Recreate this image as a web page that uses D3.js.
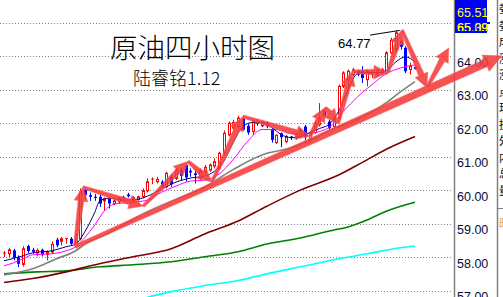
<!DOCTYPE html>
<html lang="zh">
<head>
<meta charset="UTF-8">
<title>原油四小时图</title>
<script src="https://d3js.org/d3.v7.min.js"></script>
<style>
  body { margin: 0; background: #fff; overflow: hidden; }
  svg { display: block; background: #fff; }
  .grid line { stroke: #808080; stroke-dasharray: 1,2; }
  .axis text { font-family: "Liberation Sans", Arial, sans-serif; font-size: 12.5px; fill: #0a0a3c; }
  .title { font-family: "Noto Sans CJK SC", sans-serif; font-weight: 300; fill: #000; }
</style>
</head>
<body>
<svg width="503" height="297"></svg>
<script>
// 4h bars: [open, high, low, close]
const ohlc = [
  [58.08,58.18,58.00,58.12],[58.10,58.27,58.00,58.22],[58.20,58.25,57.90,57.98],[58.00,58.05,57.70,57.80],
  [57.78,58.33,57.72,58.25],[58.33,58.37,58.12,58.18],[58.22,58.28,58.10,58.16],[58.12,58.26,58.02,58.20],
  [58.22,58.25,58.02,58.08],[58.08,58.20,57.90,58.15],[58.15,58.47,58.10,58.38],[58.52,58.58,58.30,58.35],
  [58.47,58.60,58.35,58.55],[58.50,58.58,58.40,58.55],[58.55,58.60,58.35,58.40],[58.40,58.72,58.35,58.65],
  [58.55,60.05,58.50,59.95],[60.02,60.08,59.72,59.85],[59.85,59.93,59.68,59.80],[59.80,59.88,59.68,59.77],
  [59.80,59.88,59.50,59.60],[59.68,59.78,59.38,59.75],[59.75,59.80,59.45,59.60],[59.60,59.72,59.55,59.68],
  [59.65,59.80,59.58,59.77],[59.80,59.83,59.73,59.76],[59.87,59.92,59.78,59.82],[59.70,59.82,59.66,59.78],
  [59.72,59.84,59.68,59.80],[59.80,60.05,59.75,59.98],[59.98,60.35,59.93,60.25],[60.28,60.38,60.18,60.33],
  [60.25,60.40,60.20,60.32],[60.25,60.30,60.05,60.10],[60.10,60.55,60.05,60.50],[60.40,60.47,60.10,60.18],
  [60.35,60.67,60.30,60.60],[60.60,60.68,60.30,60.43],[60.75,60.82,60.25,60.38],[60.58,60.65,60.40,60.53],
  [60.50,60.62,60.20,60.45],[60.35,60.65,60.30,60.58],[60.55,60.75,60.50,60.68],[60.60,60.80,60.55,60.75],
  [60.72,60.95,60.65,60.85],[60.65,61.15,60.60,61.10],[61.10,61.78,61.05,61.70],[61.65,62.05,61.60,62.00],
  [61.85,62.10,61.80,62.02],[61.90,62.22,61.85,62.15],[62.13,62.22,61.78,61.80],[61.92,61.98,61.65,61.72],
  [61.75,62.12,61.65,62.05],[62.05,62.12,61.92,61.98],[61.92,62.06,61.88,62.02],[62.00,62.05,61.85,61.90],
  [61.82,61.86,61.42,61.50],[61.42,61.66,61.38,61.64],[61.70,61.72,61.28,61.58],[61.45,61.65,61.40,61.60],
  [61.60,61.62,61.50,61.55],[61.55,61.72,61.50,61.68],[61.60,61.85,61.55,61.80],[61.90,61.95,61.50,61.58],
  [61.50,61.78,61.42,61.72],[61.72,62.05,61.68,62.00],[61.95,62.60,61.90,62.15],[62.40,62.45,62.15,62.20],
  [62.05,62.10,61.80,61.85],[61.90,62.20,61.85,62.15],[62.15,63.15,62.10,63.10],[63.10,63.55,63.05,63.50],
  [63.30,63.60,63.10,63.55],[63.45,63.65,63.40,63.60],[63.55,63.60,63.40,63.45],[63.55,63.70,63.20,63.35],
  [63.30,63.60,63.10,63.55],[63.48,63.60,63.35,63.52],[63.45,63.62,63.40,63.58],[63.50,63.65,63.45,63.60],
  [63.50,64.15,63.45,64.10],[64.10,64.55,64.05,64.48],[64.20,64.77,64.15,64.70],[64.45,64.50,64.20,64.28],
  [64.25,64.30,63.50,63.55],[63.60,63.80,63.45,63.70],[63.68,63.70,63.60,63.62]
];

// moving averages: [bar index, price]
const maNavy = [[0,57.89],[4,58.04],[6,58.13],[10,58.19],[13,58.31],[15,58.39],[17,58.78],[19,59.34],[20,59.67],
  [22,59.76],[25,59.70],[28,59.73],[30,59.82],[33,60.03],[36,60.24],[39,60.36],[42,60.42],[44,60.56],[46,60.86],
  [48,61.43],[50,61.90],[52,62.02],[54,62.02],[56,61.87],[58,61.66],[60,61.57],[62,61.60],[64,61.72],[66,61.84],
  [68,61.96],[70,62.35],[72,63.00],[74,63.48],[76,63.51],[78,63.51],[80,63.57],[82,63.83],[84,63.98],[86,63.83]];
const maMagenta = [[0,57.74],[2,57.83],[4,57.95],[6,58.07],[10,58.10],[13,58.19],[15,58.31],[17,58.60],[19,58.96],
  [21,59.38],[23,59.58],[27,59.64],[30,59.70],[33,59.94],[36,60.12],[39,60.27],[42,60.30],[45,60.48],[48,60.92],
  [51,61.46],[54,61.81],[57,61.81],[60,61.69],[63,61.69],[66,61.75],[68,61.87],[71,62.35],[74,62.79],[77,63.15],
  [80,63.48],[83,63.65],[86,63.74]];
const maGray = [[0,57.47],[6,57.65],[11,57.95],[15,58.19],[17,58.39],[22,58.72],[27,59.14],[35,59.67],[42,60.09],
  [48,60.62],[55,61.10],[58,61.19],[61,61.31],[65,61.54],[68,61.78],[72,61.99],[76,62.26],[80,62.61],[83,62.94],[86,63.24]];
const maMaroon = [[0,57.24],[6,57.36],[13,57.56],[20,57.80],[27,58.01],[35,58.25],[42,58.69],[49,59.08],[55,59.52],
  [62,60.00],[70,60.45],[75,60.83],[80,61.22],[86,61.60]];
const maGreen = [[0,57.50],[7,57.56],[13,57.59],[20,57.71],[27,57.77],[35,57.86],[42,58.01],[49,58.16],[55,58.39],
  [62,58.57],[69,58.81],[72,58.90],[76,59.11],[80,59.37],[83,59.52],[86,59.64]];
const maCyan = [[30,56.80],[35,56.97],[42,57.15],[49,57.30],[55,57.50],[62,57.71],[69,57.92],[76,58.10],[83,58.28],[86,58.33]];

// hand-drawn red arrows: [bar index, price]
const zigzag = [[14.85,58.34],[16.5,60.09],[29.1,59.52],[38.5,60.86],[43.5,60.24],[50.0,62.2],[64.0,61.6],
  [67.2,62.47],[69.9,61.99],[72.8,63.54],[80.3,63.51],[83.3,64.78],[88.5,63.06],[93.1,64.25]];
const trendArrow = [[14.85,58.31],[104.2,64.01]];
const highMark = { label: "64.77", from: [76.6,64.63], to: [82.8,64.77] };

const priceTicks = [57, 58, 59, 60, 61, 62, 63, 64, 65];
const quoteLabels = ["65.51", "65.39", "65.09"];
const titleText = "原油四小时图";
const subText = "陆睿铭1.12";
const sideChars = ["委","委","成","涨","涨","点","现","换","外","内","总","量"];

const svg = d3.select("svg");
const plotW = 454;

const x = d3.scaleLinear().domain([0, ohlc.length - 1]).range([4, 415]);
const y = d3.scaleLinear().domain([57, 65]).range([290.6, 22.7]);

svg.append("defs").append("clipPath").attr("id", "plot")
  .append("rect").attr("x", 0).attr("y", 0).attr("width", plotW).attr("height", 297);

// grid
svg.append("g").attr("class", "grid")
  .selectAll("line").data(priceTicks).join("line")
  .attr("x1", 0).attr("x2", plotW - 2)
  .attr("y1", d => Math.round(y(d)) + 0.5).attr("y2", d => Math.round(y(d)) + 0.5);

// price axis
const axis = svg.append("g").attr("class", "axis")
  .attr("transform", `translate(${plotW},0)`)
  .call(d3.axisRight(y).tickValues(priceTicks).tickSize(0).tickPadding(3).tickFormat(d3.format(".2f")));
axis.select(".domain").remove();
axis.selectAll("text").attr("dy", 10);

svg.append("line").attr("x1", plotW + 0.5).attr("x2", plotW + 0.5).attr("y1", 0).attr("y2", 297)
  .attr("stroke", "#808080").attr("stroke-width", 1.5);
svg.append("line").attr("x1", 497.5).attr("x2", 497.5).attr("y1", 0).attr("y2", 297)
  .attr("stroke", "#808080").attr("stroke-width", 1.5);

// side panel (cut off at the window edge)
svg.append("g").selectAll("text").data(sideChars).join("text")
  .attr("x", 499).attr("y", (d, i) => 13 + i * 16.5)
  .attr("font-family", "Noto Sans CJK SC").attr("font-size", 11).attr("fill", "#000")
  .text(d => d);
svg.append("line").attr("x1", 498).attr("x2", 503).attr("y1", 208.5).attr("y2", 208.5).attr("stroke", "#808080");
svg.append("text").attr("x", 499).attr("y", 228).attr("font-family", "Noto Sans CJK SC")
  .attr("font-size", 11).attr("fill", "#e8a040").text("昨");

// quote box
svg.append("rect").attr("x", plotW + 1).attr("y", 0).attr("width", 32).attr("height", 33).attr("fill", "#0000ff");
svg.append("rect").attr("x", plotW + 33).attr("y", 22).attr("width", 3).attr("height", 2).attr("fill", "#0000ff");
svg.append("clipPath").attr("id", "qclip").append("rect").attr("x", plotW).attr("y", 21).attr("width", 34).attr("height", 10);
svg.append("text").attr("x", plotW + 3).attr("y", 17)
  .attr("font-family", "Liberation Sans").attr("font-size", 12.5).attr("fill", "#ffff00").text(quoteLabels[0]);
svg.append("g").attr("clip-path", "url(#qclip)").selectAll("text").data(quoteLabels.slice(1)).join("text")
  .attr("x", plotW + 3).attr("y", 32)
  .attr("font-family", "Liberation Sans").attr("font-size", 12.5).attr("fill", "#ffff00").text(d => d);

const plot = svg.append("g").attr("clip-path", "url(#plot)");

// candles
const bars = plot.append("g").selectAll("g").data(ohlc).join("g")
  .attr("transform", (d, i) => `translate(${Math.round(x(i))},0)`);
bars.append("line")
  .attr("x1", 0.5).attr("x2", 0.5)
  .attr("y1", d => y(d[1])).attr("y2", d => y(d[2]))
  .attr("stroke", d => d[3] >= d[0] ? "#ff0000" : "#0000ff");
bars.each(function(d) {
  const g = d3.select(this);
  const top = y(Math.max(d[0], d[3])), bot = y(Math.min(d[0], d[3]));
  const h = Math.max(bot - top, 1);
  if (d[3] >= d[0]) {
    if (h < 2) {
      g.append("line").attr("x1", -1).attr("x2", 2).attr("y1", top).attr("y2", top).attr("stroke", "#ff0000");
    } else {
      g.append("rect").attr("x", -0.5).attr("y", top).attr("width", 2).attr("height", h)
        .attr("fill", "#fff").attr("stroke", "#ff0000");
    }
  } else {
    g.append("rect").attr("x", -1).attr("y", top).attr("width", 3).attr("height", Math.max(h, 1.2))
      .attr("fill", "#0000ff");
  }
});

// moving averages
const line = d3.line().x(d => x(d[0])).y(d => y(d[1])).curve(d3.curveMonotoneX);
[[maCyan, "#00ffff", 1.6], [maGreen, "#008000", 1.6], [maMaroon, "#800000", 1.6],
 [maGray, "#808080", 1.6], [maMagenta, "#ff00ff", 1], [maNavy, "#000080", 1]].forEach(([data, color, w]) => {
  plot.append("path").datum(data).attr("d", line)
    .attr("fill", "none").attr("stroke", color).attr("stroke-width", w);
});

// high label
svg.append("line")
  .attr("x1", x(highMark.from[0])).attr("y1", y(highMark.from[1]))
  .attr("x2", x(highMark.to[0])).attr("y2", y(highMark.to[1]))
  .attr("stroke", "#000").attr("stroke-width", 1);
svg.append("text").attr("x", x(highMark.from[0]) - 32).attr("y", y(highMark.from[1]) + 13)
  .attr("font-family", "Liberation Sans").attr("font-size", 13).attr("fill", "#000").text(highMark.label);

// arrows
function arrow(p, q, tailW, shaftW, headW, headL) {
  const x1 = x(p[0]), y1 = y(p[1]), x2 = x(q[0]), y2 = y(q[1]);
  const L = Math.hypot(x2 - x1, y2 - y1), ux = (x2 - x1) / L, uy = (y2 - y1) / L;
  const nx = -uy, ny = ux;
  const bx = x2 - ux * headL, by = y2 - uy * headL;
  const pts = [
    [x1 + nx * tailW / 2, y1 + ny * tailW / 2],
    [bx + nx * shaftW / 2, by + ny * shaftW / 2],
    [bx + nx * headW / 2, by + ny * headW / 2],
    [x2, y2],
    [bx - nx * headW / 2, by - ny * headW / 2],
    [bx - nx * shaftW / 2, by - ny * shaftW / 2],
    [x1 - nx * tailW / 2, y1 - ny * tailW / 2]
  ];
  return "M" + pts.map(d => d.join(",")).join("L") + "Z";
}
const arrows = svg.append("g").attr("fill", "#f43a3a").attr("fill-opacity", 0.88)
  .attr("stroke", "#ff7070").attr("stroke-opacity", 0.6).attr("stroke-width", 0.8);
arrows.append("path").attr("d", arrow(trendArrow[0], trendArrow[1], 4, 8, 18, 18));
d3.pairs(zigzag).forEach(([p, q]) => {
  arrows.append("path").attr("d", arrow(p, q, 3, 6, 14, 14));
});

// titles
svg.append("text").attr("class", "title").attr("x", 110).attr("y", 58).attr("font-size", 27.5).text(titleText);
svg.append("text").attr("class", "title").attr("x", 133).attr("y", 85).attr("font-size", 18).text(subText);
</script>
</body>
</html>
